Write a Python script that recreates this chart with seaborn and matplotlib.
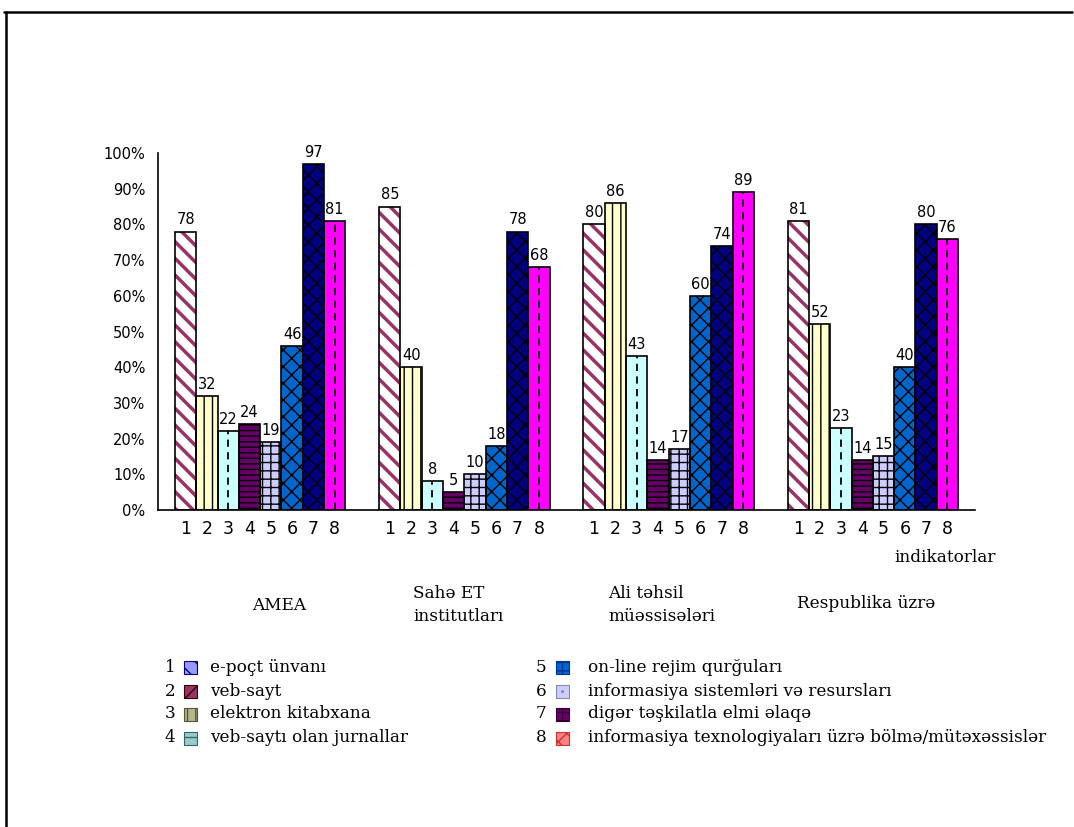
import matplotlib
matplotlib.use("Agg")
import matplotlib.pyplot as plt
import pandas as pd
import seaborn as sns
from matplotlib.patches import Rectangle
from matplotlib.lines import Line2D

# ---- data -------------------------------------------------------------
groups = ["AMEA", "Sahə ET institutları", "Ali təhsil müəssisələri", "Respublika üzrə"]
group_titles = ["AMEA", "Sahə ET\ninstitutları", "Ali təhsil\nmüəssisələri", "Respublika üzrə"]
indicators = ["1", "2", "3", "4", "5", "6", "7", "8"]

amea = [78, 32, 22, 24, 19, 46, 97, 81]
sahe_et = [85, 40, 8, 5, 10, 18, 78, 68]
ali_tehsil = [80, 86, 43, 14, 17, 60, 74, 89]
respublika = [81, 52, 23, 14, 15, 40, 80, 76]

y_ticks = [0, 10, 20, 30, 40, 50, 60, 70, 80, 90, 100]

legend_labels = [
    "e-poçt ünvanı",
    "veb-sayt",
    "elektron kitabxana",
    "veb-saytı olan jurnallar",
    "on-line rejim qurğuları",
    "informasiya sistemləri və resursları",
    "digər təşkilatla elmi əlaqə",
    "informasiya texnologiyaları üzrə bölmə/mütəxəssislər",
]

# ---- styles -----------------------------------------------------------
bar_face = ["#FFFFFF", "#FFFFCC", "#CCFFFF", "#660066",
            "#CCCCFF", "#0066CC", "#000080", "#FF00FF"]
bar_hatch = ["\\\\", "||", "", "---", "++", "xx", "xx", ""]
bar_hatch_color = ["#993366", "#000000", "#000000", "#000000",
                   "#000000", "#000000", "#000000", "#000000"]
bar_hatch_lw = [2.5, 1.0, 1.0, 1.0, 1.0, 1.0, 1.0, 1.0]
dashed_center = [False, False, True, False, False, False, False, True]

leg_face = ["#9999FF", "#993366", "#B5B58E", "#99CCCC",
            "#0066CC", "#CCCCFF", "#660066", "#FF8080"]
leg_hatch = ["\\\\", "//", "||", "--", "++", "..", "++", "xx"]
leg_hatch_color = ["#000080", "#330000", "#555533", "#336666",
                   "#003399", "#8888AA", "#330033", "#CC3333"]

sns.set_style("white")
plt.rcParams["font.family"] = ["DejaVu Sans"]
plt.rcParams["text.color"] = "black"
plt.rcParams["xtick.color"] = "black"
plt.rcParams["ytick.color"] = "black"
SERIF = ["DejaVu Serif", "Liberation Serif"]
SERIF_SIZE = 12.2

W, H = 1074, 827
fig = plt.figure(figsize=(W / 100, H / 100), dpi=100)


def fx(px):
    return px / W


def fy(py):
    return 1 - py / H


ax = fig.add_axes([fx(158), fy(510), fx(975) - fx(158), (510 - 153) / H])

df = pd.DataFrame({
    "group": [g for g in groups for _ in indicators],
    "indicator": indicators * len(groups),
    "value": amea + sahe_et + ali_tehsil + respublika,
})

sns.barplot(data=df, x="group", y="value", hue="indicator",
            order=groups, hue_order=indicators, palette=bar_face,
            saturation=1, width=0.834, dodge=True, legend=False,
            edgecolor="black", linewidth=1, ax=ax, errorbar=None)

centers, center_labels = [], []
for i, cont in enumerate(ax.containers):
    for p in cont.patches:
        p.set_hatch(bar_hatch[i])
        p.set_edgecolor(bar_hatch_color[i])
        p.set_linewidth(0)
        if hasattr(p, "set_hatch_linewidth"):
            p.set_hatch_linewidth(bar_hatch_lw[i])
        x0, w, h = p.get_x(), p.get_width(), p.get_height()
        if dashed_center[i]:
            ax.plot([x0 + w / 2, x0 + w / 2], [0, h], color="black",
                    lw=1.3, ls=(0, (4, 3)), zorder=p.get_zorder() + 0.1)
        ax.add_patch(Rectangle((x0, 0), w, h, fill=False, edgecolor="black",
                               linewidth=1.2, zorder=p.get_zorder() + 0.2))
        centers.append(x0 + w / 2)
        center_labels.append(indicators[i])
    ax.bar_label(cont, labels=[f"{v:g}" for v in cont.datavalues],
                 padding=3, fontsize=10.5, color="black")

ax.set_xlim(-0.5, len(groups) - 0.5)
ax.set_ylim(0, 100)
ax.set_yticks(y_ticks)
ax.set_yticklabels([f"{v}%" for v in y_ticks], fontsize=10.5)
ax.tick_params(axis="y", direction="out", length=5, width=1, color="black", pad=4)

ax.set_xticks(centers)
ax.set_xticklabels(center_labels, fontsize=12.5)
ax.tick_params(axis="x", which="major", length=0, pad=7)
ax.set_xticks([k - 0.5 for k in range(len(groups) + 1)], minor=True)
ax.tick_params(axis="x", which="minor", direction="out", length=5, width=1, color="black")
ax.set_xlabel("")
ax.set_ylabel("")

for s in ("top", "right"):
    ax.spines[s].set_visible(False)
for s in ("left", "bottom"):
    ax.spines[s].set_color("black")
    ax.spines[s].set_linewidth(1.2)

# ---- category titles under the axis ----------------------------------
title_pos = [(279, 605, "center"), (413, 605, "left"),
             (608, 605, "left"), (797, 604, "left")]
for t, (px, py, ha) in zip(group_titles, title_pos):
    fig.text(fx(px), fy(py), t, ha=ha, va="center", fontsize=SERIF_SIZE,
             family=SERIF, linespacing=1.5)
fig.text(fx(894), fy(558), "indikatorlar", ha="left", va="center",
         fontsize=SERIF_SIZE, family=SERIF)

# ---- legend ------------------------------------------------------------
rows = [667, 691, 714, 738]
cols = [(170, 184, 210), (541, 556, 588)]
for k, lab in enumerate(legend_labels):
    nx, px, tx = cols[k // 4]
    py = rows[k % 4]
    fig.text(fx(nx), fy(py), indicators[k], ha="center", va="center",
             fontsize=SERIF_SIZE, family=SERIF)
    fig.patches.append(Rectangle((fx(px), fy(py + 6.5)), 13 / W, 13 / H,
                                 transform=fig.transFigure, figure=fig,
                                 facecolor=leg_face[k], edgecolor=leg_hatch_color[k],
                                 hatch=leg_hatch[k], linewidth=0.8))
    fig.text(fx(tx), fy(py), lab, ha="left", va="center",
             fontsize=SERIF_SIZE, family=SERIF)

# ---- frame ---------------------------------------------------------------
fig.add_artist(Line2D([fx(4), fx(1072)], [fy(12), fy(12)], color="black",
                      lw=1.8, transform=fig.transFigure))
fig.add_artist(Line2D([fx(6), fx(6)], [fy(12), fy(827)], color="black",
                      lw=1.8, transform=fig.transFigure))

fig.savefig("out.png", dpi=100, facecolor="white")
